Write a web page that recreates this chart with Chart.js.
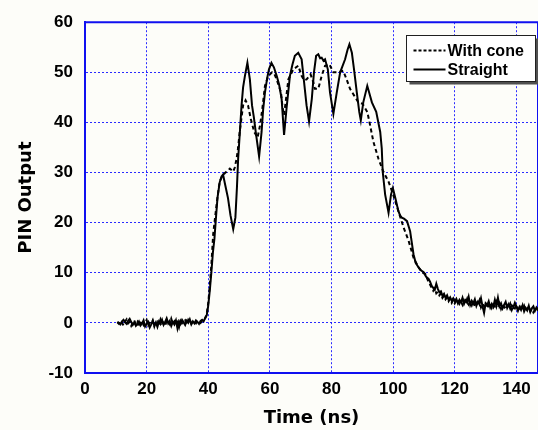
<!DOCTYPE html>
<html>
<head>
<meta charset="utf-8">
<script src="https://cdn.jsdelivr.net/npm/chart.js@4.4.1/dist/chart.umd.min.js"></script>
<style>
  html, body { margin: 0; padding: 0; background: #fdfdf9; }
  #wrap { width: 538px; height: 430px; position: relative; }
</style>
</head>
<body>
<div id="wrap"><canvas id="pinChart" width="538" height="430"></canvas></div>
<script>
// Series names
const seriesLabels = ["With cone", "Straight"];

// Axis ranges / tick spacing
const xRange = [0, 147];
const yRange = [-10, 60];
const xStep = 20;
const yStep = 10;

// Sample times shared by both traces (ns)
const baselineTime = [
  10.5, 11, 11.5, 12, 12.5, 13, 13.5, 14, 14.5, 15,
  15.5, 16, 16.5, 17, 17.5, 18, 18.5, 19, 19.5, 20,
  20.5, 21, 21.5, 22, 22.5, 23, 23.5, 24, 24.5, 25,
  25.5, 26, 26.5, 27, 27.5, 28, 28.5, 29, 29.5, 30,
  30.5, 31, 31.5, 32, 32.5, 33, 33.5, 34, 34.5, 35,
  35.5, 36, 36.5, 37, 37.5, 38, 38.5, 39
];
const tailTime = [
  112, 112.5, 113, 113.5, 114, 114.5, 115, 115.5, 116, 116.5,
  117, 117.5, 118, 118.5, 119, 119.5, 120, 120.5, 121, 121.5,
  122, 122.5, 123, 123.5, 124, 124.5, 125, 125.5, 126, 126.5,
  127, 127.5, 128, 128.5, 129, 129.5, 130, 130.5, 131, 131.5,
  132, 132.5, 133, 133.5, 134, 134.5, 135, 135.5, 136, 136.5,
  137, 137.5, 138, 138.5, 139, 139.5, 140, 140.5, 141, 141.5,
  142, 142.5, 143, 143.5, 144, 144.5, 145, 145.5, 146, 146.5,
  147
];

// "Straight" trace
const straightBase = [
  0.2, 0.0, -0.3, 0.3, 0.6, 0.1, -0.2, 0.4, 0.8, 0.2,
  -0.4, 0.1, -0.6, -0.2, 0.3, -0.5, -0.1, 0.5, -0.7, -0.2,
  0.2, -0.9, -0.3, 0.4, -0.5, 0.1, -0.8, 0.3, -0.2, 0.6,
  -0.4, 0.2, 0.9, -0.1, 0.4, -0.6, 0.2, -0.3, 0.5, -1.1,
  0.3, -0.2, 0.6, 0.1, -0.4, 0.4, 0.0, 0.7, -0.3, 0.3,
  -0.1, 0.5, 0.2, -0.2, 0.4, 0.6, 0.3, 1.0
];
const straightPulseTime = [
  39.5, 40, 40.5, 41, 41.5, 42, 42.5, 43, 43.7, 44.3,
  44.8, 45.5, 46.4, 47.2, 48.1, 48.8, 49.3, 49.7, 50.3, 50.8,
  51.3, 51.9, 52.7, 53.5, 54.2, 54.8, 55.4, 56.5, 57.3, 57.8,
  58.4, 59.1, 59.7, 60.5, 61.3, 62.2, 63, 63.8, 64.6, 65.4,
  66.5, 67.3, 68.1, 69.2, 70.3, 71.1, 71.9, 72.7, 73.6, 74.3,
  75, 75.7, 76.3, 76.8, 77.4, 77.9, 78.8, 79.5, 80.6, 81.7,
  82.8, 84.4, 85.2, 85.8, 86.6, 87.3, 88.2, 89, 89.5, 90.3,
  91.6, 93.1, 94.5, 95.8, 96.3, 96.6, 97.4, 98.5, 99.3, 99.9,
  100.7, 101.7, 102.3, 102.8, 103.5, 104.5, 105.5, 106.6, 107.3, 108.2,
  109, 109.9, 110.7, 111.5
];
const straightPulse = [
  1.5, 3.5, 6.5, 10, 14, 16.8, 21, 25, 28, 29.2,
  29.6, 27.5, 24.9, 21.5, 18.7, 21, 27, 32.8, 38.5, 43.4,
  47, 49.3, 51.9, 48.6, 43.4, 41, 38.1, 33.2, 38.1, 42.5,
  46, 48.8, 50.6, 51.9, 51, 49.3, 47.5, 44.7, 37.5, 42.8,
  49.3, 51.5, 53.3, 53.9, 52.6, 48, 43.4, 40.2, 44.7, 50,
  53.3, 53.6, 52.8, 52.9, 52.3, 52.6, 50.6, 46, 41.7, 46,
  50, 52.6, 54.5, 55.6, 53.9, 50.6, 46, 42.1, 40.4, 44,
  47.3, 44, 42.1, 38.1, 34.8, 30.2, 25.6, 22, 25.6, 26.9,
  24.9, 22.3, 21.4, 21, 20.8, 20.3, 18.3, 13.7, 12, 11.1,
  10.5, 10.1, 9.2, 8.8
];
const straightTail = [
  8.2, 7.4, 7.0, 6.6, 7.8, 6.8, 6.1, 6.3, 5.4, 5.8,
  5.0, 5.5, 4.6, 5.1, 4.4, 4.9, 4.3, 4.8, 3.9, 4.6,
  4.1, 5.0, 3.8, 4.5, 4.0, 5.2, 3.6, 4.4, 3.9, 4.7,
  3.4, 4.2, 3.7, 4.9, 3.3, 2.0, 3.9, 3.5, 4.3, 3.1,
  3.8, 3.2, 4.6, 3.4, 5.0, 3.3, 3.9, 2.9, 3.6, 4.2,
  3.0, 3.7, 2.8, 3.5, 3.1, 4.0, 3.3, 2.4, 3.2, 2.6,
  3.5, 2.3, 3.0, 2.5, 3.4, 2.2, 2.9, 3.3, 2.4, 3.1,
  2.7
];

// "With cone" trace
const coneBase = [
  0.1, -0.2, 0.4, 0.0, -0.5, 0.3, 0.7, -0.1, 0.2, -0.6,
  0.0, 0.5, -0.3, 0.2, -0.8, -0.1, 0.4, -0.4, 0.1, 0.6,
  -0.5, 0.0, -0.2, 0.5, -0.7, 0.2, 0.3, -0.4, 0.7, -0.1,
  0.1, -0.6, 0.4, 0.2, -0.3, 0.8, -0.2, 0.3, -0.5, 0.1,
  -0.9, 0.4, -0.1, 0.2, 0.5, -0.3, 0.6, 0.1, -0.2, 0.4,
  0.2, -0.1, 0.5, 0.3, 0.0, 0.4, 0.7, 0.9
];
const conePulseTime = [
  39.5, 40, 40.5, 41, 41.6, 42.2, 42.7, 43.2, 43.7, 44.5,
  45.4, 46.2, 47, 48.1, 48.6, 49.2, 49.7, 50.2, 50.8, 51.3,
  52.1, 52.9, 53.8, 54.9, 56, 56.8, 57.5, 58.4, 59.5, 60.7,
  61.5, 62.2, 63.6, 64.1, 64.6, 65.2, 66, 67.6, 69.2, 70.3,
  71.1, 71.9, 73.2, 74.1, 74.6, 75.7, 76.8, 77.9, 79.3, 80.6,
  82.2, 83.8, 84.9, 86, 87.3, 88.7, 90.1, 91.6, 92.3, 93.6,
  95.2, 96.8, 98.5, 100, 101.7, 103.4, 105, 106.6, 108.2, 109.5,
  110.4, 111.2
];
const conePulse = [
  1.8, 4, 7.5, 11.5, 17.7, 21, 23.6, 26, 28.2, 29.2,
  29.9, 30.3, 30.8, 30.2, 31, 32.8, 35, 38.1, 41, 43.4,
  44.4, 43.4, 40.7, 38.1, 37, 39.4, 42.5, 47.3, 49.3, 50,
  49.6, 48.6, 46, 43, 41.5, 44.5, 48.6, 50.6, 51.3, 49.3,
  48.4, 48.6, 49.6, 48, 46.7, 46.7, 49.3, 51.3, 51.6, 50,
  50, 50.3, 48.6, 46.7, 45.4, 44, 43.7, 42.1, 40.1, 36.1,
  32.8, 30.2, 28.2, 25.6, 22.3, 19, 16.4, 13, 11.1, 10,
  9.8, 8.6
];
const coneTail = [
  7.6, 7.0, 6.4, 6.9, 5.9, 6.2, 5.5, 5.9, 5.0, 5.4,
  4.7, 5.1, 4.3, 4.8, 4.0, 4.6, 3.9, 4.4, 4.7, 3.8,
  4.3, 3.6, 4.5, 3.9, 4.8, 3.7, 4.2, 3.5, 4.4, 3.2,
  4.0, 3.6, 4.5, 3.1, 3.8, 3.3, 4.1, 2.9, 3.6, 4.0,
  3.0, 3.7, 3.3, 4.2, 3.1, 3.9, 2.8, 3.6, 3.2, 2.7,
  3.5, 3.0, 3.8, 2.6, 3.3, 2.9, 3.6, 2.8, 2.5, 3.2,
  2.7, 3.4, 2.4, 2.9, 3.1, 2.3, 2.8, 2.1, 2.6, 3.0,
  2.4
];

/**
 * Zip time and value arrays into {x, y} points
 */
function toPoints(times, values) {
  return times.map((t, i) => ({ x: t, y: values[i] }));
}

const straightPoints = toPoints(
  [...baselineTime, ...straightPulseTime, ...tailTime],
  [...straightBase, ...straightPulse, ...straightTail]
);
const conePoints = toPoints(
  [...baselineTime, ...conePulseTime, ...tailTime],
  [...coneBase, ...conePulse, ...coneTail]
);

const TICK_FONT = { family: "Liberation Sans, Arial, sans-serif", size: 17, weight: "bold" };
const TITLE_FONT = { family: "DejaVu Sans, Verdana, sans-serif", size: 18, weight: "bold" };
const GRID_BLUE = "rgba(20, 20, 255, 0.9)";
const AXIS_BLUE = "#1010f0";

// Page background + closing frame (top / right) around the plot area
const framePlugin = {
  id: "frame",
  beforeDraw(chart) {
    const { ctx } = chart;
    ctx.save();
    ctx.fillStyle = "#fdfdf9";
    ctx.fillRect(0, 0, chart.width, chart.height);
    ctx.restore();
  },
  beforeDatasetsDraw(chart) {
    const { ctx, chartArea: a } = chart;
    ctx.save();
    ctx.strokeStyle = AXIS_BLUE;
    ctx.lineWidth = 2;
    ctx.beginPath();
    ctx.moveTo(a.left, a.top);
    ctx.lineTo(a.right, a.top);
    ctx.lineTo(a.right, a.bottom);
    ctx.stroke();
    ctx.restore();
  },
};

// Boxed legend with drop shadow, drawn inside the plot area
const boxLegendPlugin = {
  id: "boxLegend",
  afterDatasetsDraw(chart) {
    const { ctx } = chart;
    const box = { x: 406.5, y: 35.5, w: 129, h: 46 };
    ctx.save();
    ctx.fillStyle = "#505050";
    ctx.fillRect(box.x + 3, box.y + 3, box.w, box.h);
    ctx.fillStyle = "#ffffff";
    ctx.fillRect(box.x, box.y, box.w, box.h);
    ctx.strokeStyle = "#202020";
    ctx.lineWidth = 1;
    ctx.strokeRect(box.x, box.y, box.w, box.h);

    ctx.font = "bold 16px 'Liberation Sans', Arial, sans-serif";
    ctx.textBaseline = "middle";
    ctx.fillStyle = "#000";
    chart.data.datasets.forEach((ds, i) => {
      const y = box.y + 15 + i * 19;
      ctx.strokeStyle = "#000";
      ctx.lineWidth = 2;
      ctx.setLineDash(ds.borderDash && ds.borderDash.length ? [3, 2] : []);
      ctx.beginPath();
      ctx.moveTo(box.x + 7, y);
      ctx.lineTo(box.x + 39, y);
      ctx.stroke();
      ctx.setLineDash([]);
      ctx.fillText(ds.label, box.x + 41, y + 1);
    });
    ctx.restore();
  },
};

document.addEventListener("DOMContentLoaded", () => {
  const ctx = document.getElementById("pinChart");

  new Chart(ctx, {
    type: "line",
    data: {
      datasets: [
        {
          label: seriesLabels[0],
          data: conePoints,
          borderColor: "#000",
          borderWidth: 2,
          borderDash: [4, 3],
          pointRadius: 0,
          tension: 0,
        },
        {
          label: seriesLabels[1],
          data: straightPoints,
          borderColor: "#000",
          borderWidth: 2,
          pointRadius: 0,
          tension: 0,
        },
      ],
    },
    options: {
      responsive: false,
      animation: false,
      events: [],
      layout: { padding: { top: 19, right: 0, left: 0, bottom: 0 } },
      plugins: {
        legend: { display: false },
        tooltip: { enabled: false },
      },
      scales: {
        x: {
          type: "linear",
          min: xRange[0],
          max: xRange[1],
          afterFit: (scale) => { scale.height = 57; },
          ticks: {
            stepSize: xStep,
            includeBounds: false,
            maxRotation: 0,
            padding: 6,
            color: "#000",
            font: TICK_FONT,
          },
          grid: {
            color: GRID_BLUE,
            lineWidth: 1,
            drawTicks: false,
          },
          border: { display: true, color: AXIS_BLUE, width: 2, dash: [2, 2] },
          title: {
            display: true,
            text: "Time (ns)",
            color: "#000",
            font: TITLE_FONT,
            padding: { top: 0, bottom: 1 },
          },
        },
        y: {
          min: yRange[0],
          max: yRange[1],
          afterFit: (scale) => { scale.width = 85; },
          ticks: {
            stepSize: yStep,
            padding: 12,
            color: "#000",
            font: TICK_FONT,
          },
          grid: {
            color: GRID_BLUE,
            lineWidth: 1,
            drawTicks: false,
          },
          border: { display: true, color: AXIS_BLUE, width: 2, dash: [2, 2] },
          title: {
            display: true,
            text: "PIN Output",
            color: "#000",
            font: TITLE_FONT,
            padding: { top: 16, bottom: 0 },
          },
        },
      },
    },
    plugins: [framePlugin, boxLegendPlugin],
  });
});
</script>
</body>
</html>
